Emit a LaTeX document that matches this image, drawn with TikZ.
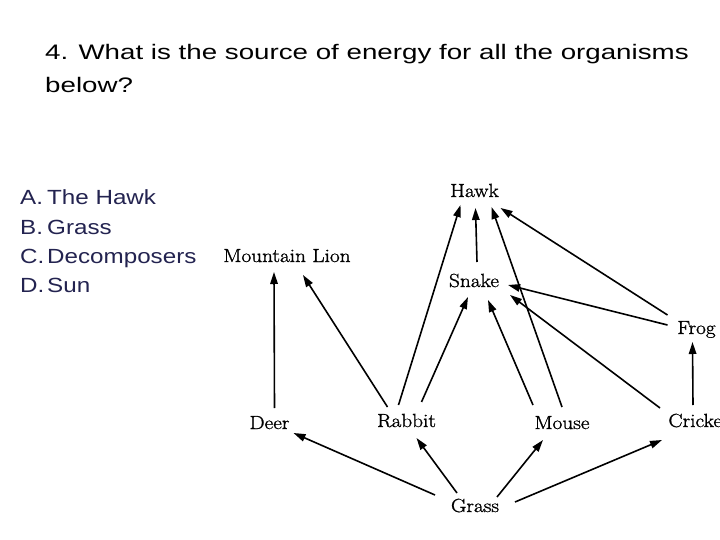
\documentclass[tikz,border=0pt]{standalone}
\usepackage{fontspec}
\newfontfamily\qfont[FakeStretch=1.32]{Liberation Sans}
\newfontfamily\afont[FakeStretch=1.18]{Liberation Sans}
\newfontfamily\labfont[FakeStretch=1.12,FakeBold=1.2]{Latin Modern Roman}
\usetikzlibrary{arrows.meta,calc}
\definecolor{navy}{RGB}{35,35,80}
\begin{document}
\begin{tikzpicture}[x=1pt,y=-1pt,
  lab/.style={anchor=base,inner sep=0pt,font=\labfont\fontsize{19}{22}\selectfont},
  arr/.style={line width=1.6pt,-{Triangle[length=12pt,width=7.5pt]}},
  ans/.style={anchor=base west,inner sep=0pt,text=navy,font=\afont\fontsize{20.5}{24}\selectfont}]
\useasboundingbox[fill=white] (0,0) rectangle (720,540);
\clip (0,0) rectangle (720,540);
% question
\node[anchor=base west,inner sep=0pt,font=\qfont\fontsize{21}{24}\selectfont] (q1) at (45,60) {4. What is the source of energy for all the organisms};
\node[anchor=base west,inner sep=0pt,font=\qfont\fontsize{21}{24}\selectfont] (q2) at (45,93) {below?};
% answers
\foreach \l/\t/\y [count=\i] in {A/The Hawk/205,B/Grass/234,C/Decomposers/263,D/Sun/292}{
  \node[ans] (al\i) at (20,\y) {\l.};
  \node[ans] (at\i) at (47,\y) {\t};
}
% food web labels
\node[lab] (hawk) at (474.5,197) {Hawk};
\node[lab] (lion) at (287,262) {Mountain Lion};
\node[lab] (snake) at (474,287) {Snake};
\node[lab] (frog) at (696.5,334) {Frog};
\node[lab] (deer) at (269.5,429) {Deer};
\node[lab] (rabbit) at (406.5,427) {Rabbit};
\node[lab] (mouse) at (562,429) {Mouse};
\node[lab] (cricket) at (699,427) {Cricket};
\node[lab] (grass) at (475,512) {Grass};
% connectors
\draw[arr] ($(deer.base)+(5,-21)$) -- ($(lion.base)+(-13,10)$);
\draw[arr] ($(rabbit.base)+(-19,-20)$) -- ($(lion.base)+(16,13)$);
\draw[arr] ($(rabbit.base)+(-8,-22)$) -- ($(hawk.base)+(-14,8)$);
\draw[arr] ($(rabbit.base)+(15,-25)$) -- ($(snake.base)+(-6,10)$);
\draw[arr] ($(snake.base)+(3,-25)$) -- ($(hawk.base)+(1,11)$);
\draw[arr] ($(mouse.base)+(-29,-24)$) -- ($(snake.base)+(14,13)$);
\draw[arr] ($(mouse.base)+(0,-22)$) -- ($(hawk.base)+(17,10)$);
\draw[arr] ($(cricket.base)+(-39,-19)$) -- ($(snake.base)+(36,8)$);
\draw[arr] ($(frog.base)+(-29,-9)$) -- ($(snake.base)+(34,-2)$);
\draw[arr] ($(frog.base)+(-29,-19)$) -- ($(hawk.base)+(26,11)$);
\draw[arr] ($(cricket.base)+(-6,-22)$) -- ($(frog.base)+(-4,8)$);
\draw[arr] ($(grass.base)+(-40,-17)$) -- ($(deer.base)+(24,4)$);
\draw[arr] ($(grass.base)+(-18,-19)$) -- ($(rabbit.base)+(10,11)$);
\draw[arr] ($(grass.base)+(22,-15)$) -- ($(mouse.base)+(-19,11)$);
\draw[arr] ($(grass.base)+(40,-10)$) -- ($(cricket.base)+(-37,13)$);
\end{tikzpicture}
\end{document}
